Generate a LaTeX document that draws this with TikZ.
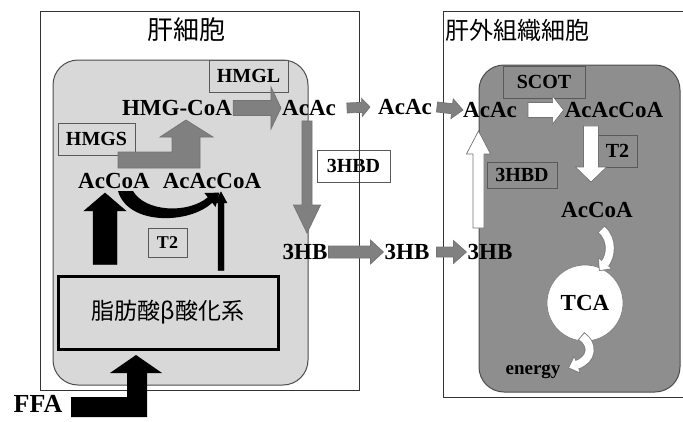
\documentclass[tikz,border=0pt]{standalone}
\usepackage{fontspec}
\setmainfont{Liberation Serif}
\newfontfamily\jpfont{Noto Sans CJK JP}
\usepackage{tikz}
\usetikzlibrary{calc, arrows.meta, positioning}
\definecolor{cytolight}{RGB}{216,216,216}
\definecolor{cytodark}{RGB}{142,142,142}
\definecolor{flowgray}{RGB}{128,128,128}

\begin{document}
\begin{tikzpicture}[
    x=1pt, y=-1pt,
    cellbox/.style={draw=black!80, line width=0.8pt, inner sep=0pt},
    cytosol/.style={draw=black!70, line width=1pt, rounded corners=25pt, inner sep=0pt},
    celltitle/.style={font=\jpfont\fontsize{26}{30}\selectfont, inner sep=0pt},
    metab/.style={font=\bfseries\fontsize{23}{26}\selectfont, inner sep=1pt},
    enzyme/.style={draw=black!65, line width=0.8pt, font=\bfseries\fontsize{20}{22}\selectfont, inner sep=0pt},
    grayflow/.style={fill=flowgray, draw=black!55, line width=0.7pt},
    whiteflow/.style={fill=white, draw=black!55, line width=0.7pt},
    fat/.style args={#1/#2/#3}{to path={
        ($(\tikztostart)!#1!90:(\tikztotarget)$)
        -- ($($(\tikztotarget)!#3!(\tikztostart)$)!#1!-90:(\tikztostart)$)
        -- ($($(\tikztotarget)!#3!(\tikztostart)$)!#2!-90:(\tikztostart)$)
        -- (\tikztotarget)
        -- ($($(\tikztotarget)!#3!(\tikztostart)$)!#2!90:(\tikztostart)$)
        -- ($($(\tikztotarget)!#3!(\tikztostart)$)!#1!90:(\tikztostart)$)
        -- ($(\tikztostart)!#1!-90:(\tikztotarget)$) -- cycle}},
    ribbonrim/.style={draw=black!50, line width=10pt, -{Triangle[length=10pt, width=19pt, line width=0.5pt]}},
    ribbonfill/.style={draw=white, line width=8pt, -{Triangle[length=8pt, width=15pt, line width=0.5pt]}, shorten >=1.3pt, shorten <=1pt}
]

\useasboundingbox (0,0) rectangle (683,421);
\clip (0,0) rectangle (683,421);

% 3HBD label sits under the liver cell outline
\node[enzyme, fill=white, minimum width=73pt, minimum height=32pt] (hbdliver) at (353.5,166) {3HBD};

% Cells
\node[cellbox, minimum width=319pt, minimum height=379pt] (liver) at (199.5,200.5) {};
\node[cellbox, minimum width=257pt, minimum height=386pt] (tissue) at (571.5,204) {};
\node[cytosol, fill=cytolight, minimum width=255pt, minimum height=325pt] (livercyto) at (180.5,222.5) {};
\node[cytosol, fill=cytodark, minimum width=201pt, minimum height=327pt] (tissuecyto) at (579.5,228.5) {};

\node[celltitle] (livertitle) at (186,30) {肝細胞};
\node[celltitle, font=\jpfont\fontsize{24}{28}\selectfont, anchor=west] (tissuetitle) at (445,30) {肝外組織細胞};

% Enzymes
\node[enzyme, minimum width=79pt, minimum height=32pt] (hmgl) at (248.5,76) {HMGL};
\node[enzyme, minimum width=77pt, minimum height=32pt] (hmgs) at (96.5,139) {HMGS};
\node[enzyme, minimum width=39pt, minimum height=29pt, font=\bfseries\fontsize{18}{20}\selectfont] (tliver) at (167.5,242.5) {T2};
\node[enzyme, minimum width=82pt, minimum height=32pt] (scot) at (544,82) {SCOT};
\node[enzyme, minimum width=39pt, minimum height=32pt] (ttissue) at (617.5,151) {T2};
\node[enzyme, minimum width=70pt, minimum height=26pt] (hbdtissue) at (522,175) {3HBD};

% Beta oxidation
\node[draw=black, line width=3pt, fill=cytolight, minimum width=220pt, minimum height=73pt, font=\jpfont\fontsize{23}{26}\selectfont] (betaox) at (168,312.5) {脂肪酸β酸化系};

% Metabolites - liver
\node[metab] (hmgcoa) at (177,108) {HMG-CoA};
\node[metab] (acac1) at (309,108) {AcAc};
\node[metab] (accoa1) at (114,181) {AcCoA};
\node[metab] (acaccoa1) at (212,181) {AcAcCoA};
\node[metab] (hb1) at (305,252) {3HB};

% Metabolites - blood
\node[metab] (acac2) at (405,107) {AcAc};
\node[metab] (hb2) at (407,252) {3HB};

% Metabolites - tissue
\node[metab] (acac3) at (490,110) {AcAc};
\node[metab] (hb3) at (490,252) {3HB};
\node[metab] (acaccoa2) at (614,110) {AcAcCoA};
\node[metab] (accoa2) at (597,210) {AcCoA};
\node[circle, fill=white, draw=black!50, line width=0.7pt, minimum size=76pt, font=\bfseries\fontsize{23}{26}\selectfont] (tca) at (585,303) {TCA};
\node[metab, font=\bfseries\fontsize{19}{22}\selectfont] (energy) at (533,372) {energy};

\node[metab, font=\bfseries\fontsize{26}{29}\selectfont] (ffa) at (38,404) {FFA};

% Ketone body flow
\draw[grayflow, fat=7.5pt/21pt/10pt] (hmgcoa.east) to (acac1.west);
\draw[grayflow, fat=5pt/9pt/8pt] ([xshift=10pt]acac1.east) to ([xshift=-7pt]acac2.west);
\draw[grayflow, fat=5pt/10pt/11pt] ([xshift=4pt]acac2.east) to ([xshift=1pt]acac3.west);
\draw[grayflow, fat=5pt/13.5pt/28pt] ([xshift=-2pt,yshift=-4pt]acac1.south) to ([xshift=2pt,yshift=10pt]hb1.north);
\draw[grayflow, fat=6pt/12pt/13pt] (hb1.east) to (hb2.west);
\draw[grayflow, fat=5pt/11.5pt/13pt] ([xshift=6pt]hb2.east) to (hb3.west);

% HMGS step (bent arrow)
\filldraw[grayflow] (118,152) -- (172,152) -- (172,137) -- (160,137) -- (186,120) -- (213,137) -- (200,137) -- (200,168) -- (118,168) -- cycle;

% Tissue side
\draw[whiteflow, fat=7.5pt/14pt/11pt] ([xshift=10pt]acac3.east) to (acaccoa2.west);
\draw[whiteflow, fat=7.5pt/15.5pt/15pt] ([xshift=-23pt,yshift=-7pt]acaccoa2.south) to ([xshift=-6pt,yshift=19pt]accoa2.north);
\draw[whiteflow, fat=5.5pt/12pt/23pt] ([xshift=-11.5pt,yshift=15pt]hb3.north) to ([xshift=-11.5pt,yshift=-12pt]acac3.south);

\draw[ribbonrim] (601,229) .. controls (613,240) and (611,256) .. (599,271);
\draw[ribbonfill] (601,229) .. controls (613,240) and (611,256) .. (599,271);
\draw[ribbonrim] (581,336) .. controls (593,344) and (593,359) .. (568,368);
\draw[ribbonfill] (581,336) .. controls (593,344) and (593,359) .. (568,368);

% Beta oxidation products
\draw[fill=black, fat=12pt/21pt/18pt] ([xshift=-63pt,yshift=10pt]betaox.north) to ([xshift=-9pt,yshift=-3pt]accoa1.south);
\draw[fill=black, fat=3pt/6pt/11pt] ([xshift=53pt,yshift=4pt]betaox.north) to ([xshift=9pt,yshift=-2pt]acaccoa1.south);

% T2 condensation AcCoA -> AcAcCoA
\fill (118,191) .. controls (128,226) and (190,224) .. (212.2,202.7) -- (215.6,207) -- (219.4,192.6) -- (204.4,193) -- (207.8,197.3) .. controls (188,214) and (145,212) .. (133,191) -- cycle;

% FFA uptake
\fill (71,397) -- (127,397) -- (127,373) -- (110,373) -- (136,355) -- (162,373) -- (147,373) -- (147,417) -- (71,417) -- cycle;

\end{tikzpicture}
\end{document}
